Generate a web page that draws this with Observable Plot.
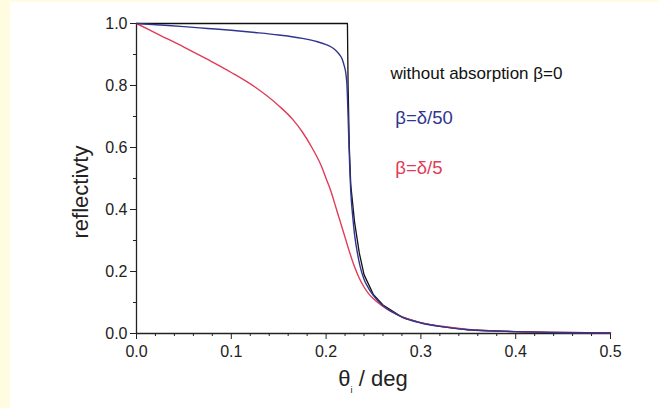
<!DOCTYPE html>
<html>
<head>
<meta charset="utf-8">
<script src="https://cdn.jsdelivr.net/npm/d3@7"></script>
<script src="https://cdn.jsdelivr.net/npm/@observablehq/plot@0.6"></script>
<style>
  html, body { margin: 0; padding: 0; background: #fffce2; width: 659px; height: 408px; overflow: hidden; }
  #panel { position: absolute; left: 10px; top: 2px; width: 649px; height: 406px; background: #ffffff; }
  svg { font-family: "Liberation Sans", Arial, sans-serif; }
</style>
</head>
<body>
<div id="panel"></div>
<script>
// angle (deg) and reflectivity
const thetaNoAbs = [0, 0.1, 0.2, 0.2225, 0.2232, 0.2245, 0.226, 0.23, 0.235, 0.24, 0.25, 0.26, 0.28, 0.30, 0.32, 0.35, 0.40, 0.45, 0.50];
const reflNoAbs  = [1.0, 1.0, 1.0, 1.0, 0.80, 0.60, 0.48, 0.36, 0.26, 0.19, 0.125, 0.092, 0.053, 0.034, 0.023, 0.012, 0.006, 0.003, 0.002];

const thetaB50 = [0, 0.025, 0.05, 0.075, 0.1, 0.125, 0.15, 0.175, 0.19, 0.2, 0.205, 0.21, 0.214, 0.217, 0.219, 0.221, 0.222, 0.223, 0.224, 0.225, 0.226, 0.228, 0.23, 0.233, 0.236, 0.24, 0.245, 0.25, 0.26, 0.28, 0.30, 0.32, 0.35, 0.40, 0.45, 0.50];
const reflB50  = [1.0, 0.995, 0.99, 0.984, 0.978, 0.971, 0.963, 0.952, 0.942, 0.932, 0.925, 0.914, 0.90, 0.885, 0.865, 0.835, 0.80, 0.72, 0.62, 0.53, 0.46, 0.38, 0.32, 0.26, 0.215, 0.175, 0.145, 0.122, 0.09, 0.053, 0.034, 0.023, 0.012, 0.006, 0.003, 0.002];

const thetaB5 = [0, 0.025, 0.05, 0.075, 0.1, 0.125, 0.15, 0.165, 0.175, 0.185, 0.195, 0.2, 0.205, 0.21, 0.215, 0.22, 0.225, 0.23, 0.235, 0.24, 0.245, 0.25, 0.26, 0.28, 0.30, 0.32, 0.35, 0.40, 0.45, 0.50];
const reflB5  = [1.0, 0.962, 0.924, 0.884, 0.842, 0.795, 0.735, 0.69, 0.65, 0.60, 0.54, 0.50, 0.46, 0.41, 0.36, 0.31, 0.26, 0.215, 0.178, 0.15, 0.128, 0.112, 0.087, 0.054, 0.035, 0.024, 0.013, 0.006, 0.003, 0.002];

const xMajor = [0, 0.1, 0.2, 0.3, 0.4, 0.5];
const xMinor = [0.02, 0.04, 0.06, 0.08, 0.12, 0.14, 0.16, 0.18, 0.22, 0.24, 0.26, 0.28, 0.32, 0.34, 0.36, 0.38, 0.42, 0.44, 0.46, 0.48];
const yMajor = [0, 0.2, 0.4, 0.6, 0.8, 1.0];
const yMinor = [0.1, 0.3, 0.5, 0.7, 0.9];

const labels = ["without absorption β=0", "β=δ/50", "β=δ/5"];
const labelX = [0.268, 0.273, 0.273];
const labelY = [0.84, 0.695, 0.533];
const labelSize = [17, 18.5, 18.5];
const labelColor = ["#111111", "#2f3590", "#e23b58"];

const blue = "#2f3590", red = "#e23b58";

const toRows = (xs, ys) => xs.map((x, i) => ({x, y: ys[i]}));
const annot = labels.map((t, i) => ({t, x: labelX[i], y: labelY[i], s: labelSize[i], c: labelColor[i]}));

const W = 649, H = 406;
const plot = Plot.plot({
  width: W, height: H,
  marginLeft: 126, marginRight: 49, marginTop: 21, marginBottom: 75,
  style: {background: "transparent", fontFamily: "Liberation Sans, Arial, sans-serif"},
  x: {domain: [0, 0.5], label: null},
  y: {domain: [0, 1.0], label: null},
  marks: [
    Plot.axisX({ticks: xMinor, tickSize: 3, tickFormat: () => "", stroke: "#222"}),
    Plot.axisX({ticks: xMajor, tickSize: 6, tickPadding: 6, tickFormat: d3.format(".1f"), fill: "#222", stroke: "#222"}),
    Plot.axisY({ticks: yMinor, tickSize: 3, tickFormat: () => "", stroke: "#222"}),
    Plot.axisY({ticks: yMajor, tickSize: 6, tickPadding: 3, tickFormat: d3.format(".1f"), fill: "#222", stroke: "#222"}),
    Plot.ruleY([0], {stroke: "#222", strokeWidth: 1.3}),
    Plot.ruleX([0], {stroke: "#222", strokeWidth: 1.3}),
    Plot.line(toRows(thetaNoAbs, reflNoAbs), {x: "x", y: "y", stroke: "#111", strokeWidth: 1.3}),
    Plot.line(toRows(thetaB5, reflB5), {x: "x", y: "y", stroke: red, strokeWidth: 1.4, curve: "monotone-x"}),
    Plot.line(toRows(thetaB50, reflB50), {x: "x", y: "y", stroke: blue, strokeWidth: 1.4, curve: "monotone-x"}),
    Plot.text(annot, {x: "x", y: "y", text: "t", fill: "c", fontSize: "s", textAnchor: "start"})
  ]
});
document.getElementById("panel").appendChild(plot);

const svg = d3.select(plot);
// enlarge axis tick labels
svg.selectAll("text")
  .filter(function() { return /^\d\.\d$/.test(this.textContent); })
  .attr("font-size", 16)
  .style("font-size", "16px");
// y-axis title
svg.append("text")
  .attr("transform", `translate(78, 190) rotate(-90)`)
  .attr("text-anchor", "middle")
  .attr("font-size", 22)
  .attr("fill", "#222")
  .text("reflectivty");
// x-axis title with subscript
const xt = svg.append("text")
  .attr("x", 126 + (W - 126 - 49) * 0.5)
  .attr("y", 384)
  .attr("text-anchor", "middle")
  .attr("font-size", 22)
  .attr("fill", "#222");
xt.append("tspan").text("θ");
xt.append("tspan").attr("font-size", 9).attr("dy", 7).text("i");
xt.append("tspan").attr("dy", -7).text(" / deg");
</script>
</body>
</html>
